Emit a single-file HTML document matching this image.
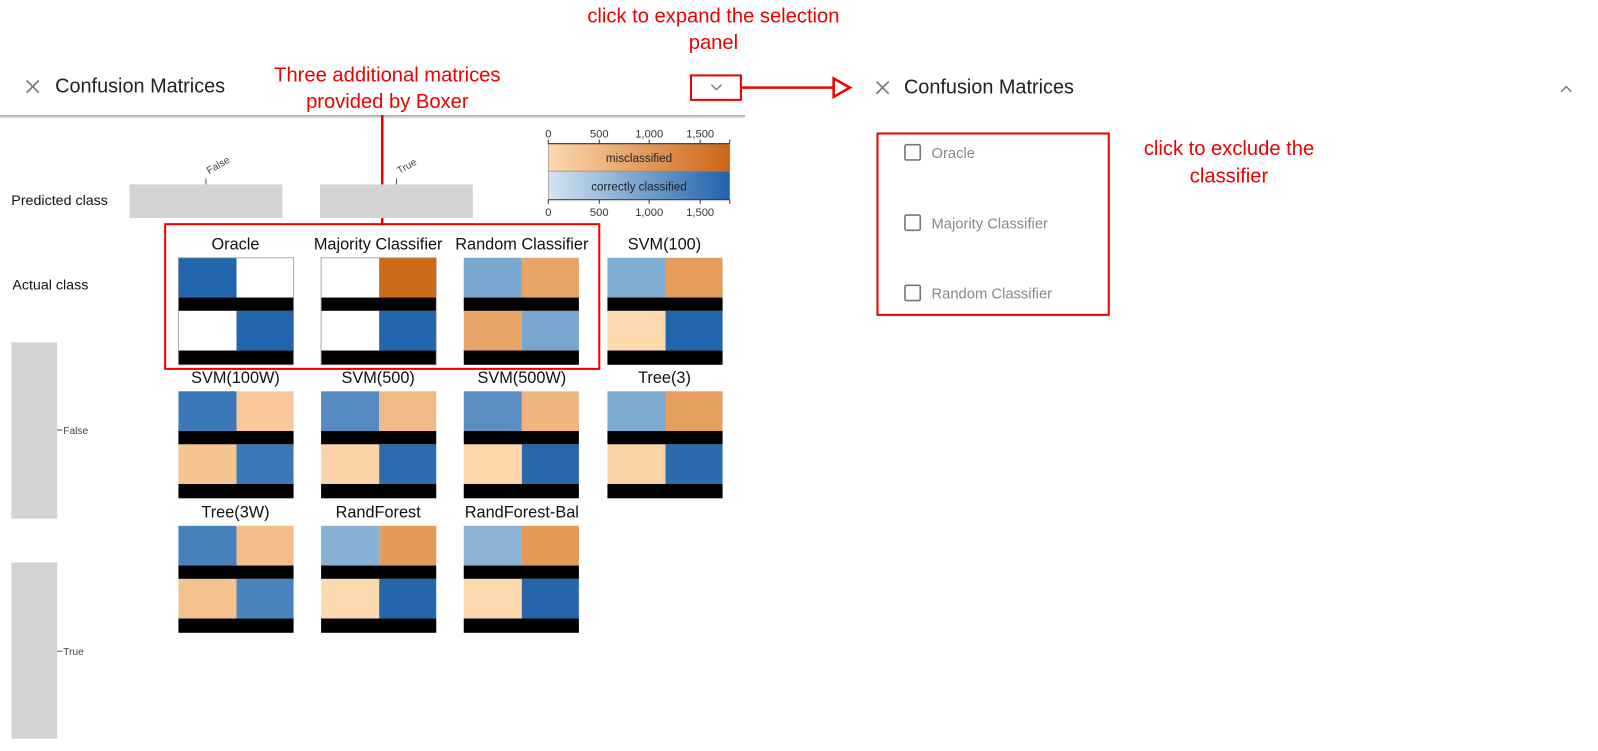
<!DOCTYPE html>
<html><head><meta charset="utf-8"><style>
html,body{margin:0;padding:0;background:#fff;width:1598px;height:751px;overflow:hidden}
svg{display:block}
text{font-family:"Liberation Sans",sans-serif}
</style></head><body>
<svg width="1598" height="751" viewBox="0 0 1568 737" xmlns="http://www.w3.org/2000/svg">
<defs>
<linearGradient id="go" x1="0" x2="1"><stop offset="0" stop-color="#fdd8b0"/><stop offset="1" stop-color="#cc6516"/></linearGradient>
<linearGradient id="gb" x1="0" x2="1"><stop offset="0" stop-color="#d3e5f1"/><stop offset="1" stop-color="#2162ab"/></linearGradient>
<linearGradient id="sh" x1="0" y1="0" x2="0" y2="1"><stop offset="0" stop-color="#bbb"/><stop offset="1" stop-color="#fff"/></linearGradient>
</defs>
<g stroke="#777" stroke-width="1.6"><line x1="26" y1="79" x2="38" y2="91"/><line x1="38" y1="79" x2="26" y2="91"/></g>
<text x="54" y="91" font-size="19.5" fill="#222">Confusion Matrices</text>
<rect x="0" y="113" width="731" height="4" fill="url(#sh)"/>
<rect x="0" y="113" width="731" height="1.2" fill="#aaa"/>
<polyline points="698,83 703,88 708,83" fill="none" stroke="#777" stroke-width="1.4"/>
<rect x="678" y="74" width="49" height="24" fill="none" stroke="#e00" stroke-width="2"/>
<line x1="727" y1="86" x2="818" y2="86" stroke="#e00" stroke-width="2.5"/>
<polygon points="818,77 834,86 818,95" fill="#fff" stroke="#e00" stroke-width="2.5"/>
<text x="700" y="22" font-size="19.8" fill="#e00" text-anchor="middle">click to expand the selection</text>
<text x="700" y="48" font-size="19.8" fill="#e00" text-anchor="middle">panel</text>
<text x="380" y="80" font-size="19.8" fill="#e00" text-anchor="middle">Three additional matrices</text>
<text x="380" y="106" font-size="19.8" fill="#e00" text-anchor="middle">provided by Boxer</text>
<line x1="375" y1="113" x2="375" y2="221" stroke="#e00" stroke-width="2.5"/>
<text x="11" y="201" font-size="14" fill="#111">Predicted class</text>
<rect x="127" y="181" width="150" height="33" fill="#d3d3d3"/>
<rect x="314" y="181" width="150" height="33" fill="#d3d3d3"/>
<line x1="202" y1="175" x2="202" y2="181" stroke="#555"/>
<line x1="389" y1="175" x2="389" y2="181" stroke="#555"/>
<text x="0" y="0" font-size="10" fill="#444" transform="translate(205,171) rotate(-30)">False</text>
<text x="0" y="0" font-size="10" fill="#444" transform="translate(392,171) rotate(-30)">True</text>
<text x="12" y="284" font-size="14" fill="#111">Actual class</text>
<rect x="11" y="336" width="45" height="173" fill="#d3d3d3"/>
<rect x="11" y="552" width="45" height="173" fill="#d3d3d3"/>
<line x1="56" y1="422" x2="61" y2="422" stroke="#555"/>
<line x1="56" y1="639" x2="61" y2="639" stroke="#555"/>
<text x="62" y="426" font-size="10" fill="#444">False</text>
<text x="62" y="643" font-size="10" fill="#444">True</text>
<rect x="538" y="141" width="178" height="27" fill="url(#go)" stroke="#888" stroke-width="0.6"/>
<rect x="538" y="168" width="178" height="28" fill="url(#gb)" stroke="#888" stroke-width="0.6"/>
<g stroke="#333" stroke-width="1">
<line x1="538" y1="141" x2="716" y2="141"/><line x1="538" y1="196" x2="716" y2="196"/>
<line x1="538" y1="137" x2="538" y2="141"/><line x1="588" y1="137" x2="588" y2="141"/><line x1="637" y1="137" x2="637" y2="141"/><line x1="687" y1="137" x2="687" y2="141"/><line x1="716" y1="137" x2="716" y2="141"/>
<line x1="538" y1="196" x2="538" y2="200"/><line x1="588" y1="196" x2="588" y2="200"/><line x1="637" y1="196" x2="637" y2="200"/><line x1="687" y1="196" x2="687" y2="200"/><line x1="716" y1="196" x2="716" y2="200"/>
</g>
<g font-size="11" fill="#333" text-anchor="middle">
<text x="538" y="135">0</text><text x="588" y="135">500</text><text x="637" y="135">1,000</text><text x="687" y="135">1,500</text>
<text x="538" y="212">0</text><text x="588" y="212">500</text><text x="637" y="212">1,000</text><text x="687" y="212">1,500</text>
</g>
<text x="627" y="159" font-size="11.5" fill="#222" text-anchor="middle">misclassified</text>
<text x="627" y="187" font-size="11.5" fill="#222" text-anchor="middle">correctly classified</text>
<g>
<g transform="translate(175,253)"><rect width="57" height="39" fill="#2166ac"/><rect x="57" width="56" height="39" fill="#fff"/><rect x="0" y="52" width="57" height="39" fill="#fff"/><rect x="57" y="52" width="56" height="39" fill="#2166ac"/><rect y="39" width="113" height="13" fill="#000"/><rect y="91" width="113" height="14" fill="#000"/><rect width="113" height="105" fill="none" stroke="#999" stroke-width="0.8"/></g>
<g transform="translate(315,253)"><rect width="57" height="39" fill="#fff"/><rect x="57" width="56" height="39" fill="#cc6a17"/><rect x="0" y="52" width="57" height="39" fill="#fff"/><rect x="57" y="52" width="56" height="39" fill="#2166ac"/><rect y="39" width="113" height="13" fill="#000"/><rect y="91" width="113" height="14" fill="#000"/><rect width="113" height="105" fill="none" stroke="#999" stroke-width="0.8"/></g>
<g transform="translate(455,253)"><rect width="57" height="39" fill="#79a6cf"/><rect x="57" width="56" height="39" fill="#e8a466"/><rect x="0" y="52" width="57" height="39" fill="#e8a466"/><rect x="57" y="52" width="56" height="39" fill="#79a6cf"/><rect y="39" width="113" height="13" fill="#000"/><rect y="91" width="113" height="14" fill="#000"/></g>
<g transform="translate(596,253)"><rect width="57" height="39" fill="#7facd1"/><rect x="57" width="56" height="39" fill="#e59c5c"/><rect x="0" y="52" width="57" height="39" fill="#fdd9b0"/><rect x="57" y="52" width="56" height="39" fill="#2166ac"/><rect y="39" width="113" height="13" fill="#000"/><rect y="91" width="113" height="14" fill="#000"/></g>
<g transform="translate(175,384)"><rect width="57" height="39" fill="#3b78b7"/><rect x="57" width="56" height="39" fill="#f8c89a"/><rect x="0" y="52" width="57" height="39" fill="#f6c490"/><rect x="57" y="52" width="56" height="39" fill="#3b78b7"/><rect y="39" width="113" height="13" fill="#000"/><rect y="91" width="113" height="14" fill="#000"/></g>
<g transform="translate(315,384)"><rect width="57" height="39" fill="#578cc2"/><rect x="57" width="56" height="39" fill="#f1b985"/><rect x="0" y="52" width="57" height="39" fill="#fcd3a8"/><rect x="57" y="52" width="56" height="39" fill="#2c6daf"/><rect y="39" width="113" height="13" fill="#000"/><rect y="91" width="113" height="14" fill="#000"/></g>
<g transform="translate(455,384)"><rect width="57" height="39" fill="#5a8ec3"/><rect x="57" width="56" height="39" fill="#efb680"/><rect x="0" y="52" width="57" height="39" fill="#fdd6ab"/><rect x="57" y="52" width="56" height="39" fill="#2968ad"/><rect y="39" width="113" height="13" fill="#000"/><rect y="91" width="113" height="14" fill="#000"/></g>
<g transform="translate(596,384)"><rect width="57" height="39" fill="#7ea9d0"/><rect x="57" width="56" height="39" fill="#e59f5f"/><rect x="0" y="52" width="57" height="39" fill="#fbd2a5"/><rect x="57" y="52" width="56" height="39" fill="#2b6bae"/><rect y="39" width="113" height="13" fill="#000"/><rect y="91" width="113" height="14" fill="#000"/></g>
<g transform="translate(175,516)"><rect width="57" height="39" fill="#4681bc"/><rect x="57" width="56" height="39" fill="#f3bd8c"/><rect x="0" y="52" width="57" height="39" fill="#f4c28f"/><rect x="57" y="52" width="56" height="39" fill="#4b84be"/><rect y="39" width="113" height="13" fill="#000"/><rect y="91" width="113" height="14" fill="#000"/></g>
<g transform="translate(315,516)"><rect width="57" height="39" fill="#87b0d4"/><rect x="57" width="56" height="39" fill="#e39b5a"/><rect x="0" y="52" width="57" height="39" fill="#fdd9b0"/><rect x="57" y="52" width="56" height="39" fill="#2666ac"/><rect y="39" width="113" height="13" fill="#000"/><rect y="91" width="113" height="14" fill="#000"/></g>
<g transform="translate(455,516)"><rect width="57" height="39" fill="#8cb2d5"/><rect x="57" width="56" height="39" fill="#e39b58"/><rect x="0" y="52" width="57" height="39" fill="#fdd9b0"/><rect x="57" y="52" width="56" height="39" fill="#2666ac"/><rect y="39" width="113" height="13" fill="#000"/><rect y="91" width="113" height="14" fill="#000"/></g>
</g>
<g font-size="16" fill="#111" text-anchor="middle">
<text x="231" y="245">Oracle</text><text x="371" y="245">Majority Classifier</text><text x="512" y="245">Random Classifier</text><text x="652" y="245">SVM(100)</text>
<text x="231" y="376">SVM(100W)</text><text x="371" y="376">SVM(500)</text><text x="512" y="376">SVM(500W)</text><text x="652" y="376">Tree(3)</text>
<text x="231" y="508">Tree(3W)</text><text x="371" y="508">RandForest</text><text x="512" y="508">RandForest-Bal</text>
</g>
<rect x="162" y="220" width="426" height="142" fill="none" stroke="#e00" stroke-width="2"/>
<g stroke="#777" stroke-width="1.6"><line x1="860" y1="80" x2="872" y2="92"/><line x1="872" y1="80" x2="860" y2="92"/></g>
<text x="887" y="92" font-size="19.5" fill="#222">Confusion Matrices</text>
<polyline points="1532,90 1537,85 1542,90" fill="none" stroke="#777" stroke-width="1.4"/>
<rect x="861" y="131" width="227" height="178" fill="none" stroke="#e00" stroke-width="2"/>
<g fill="none" stroke="#777" stroke-width="1.6">
<rect x="888" y="142" width="15" height="15" rx="1.5"/><rect x="888" y="211" width="15" height="15" rx="1.5"/><rect x="888" y="280" width="15" height="15" rx="1.5"/>
</g>
<g font-size="14.5" fill="#888">
<text x="914" y="155">Oracle</text><text x="914" y="224">Majority Classifier</text><text x="914" y="293">Random Classifier</text>
</g>
<text x="1206" y="152" font-size="19.8" fill="#e00" text-anchor="middle">click to exclude the</text>
<text x="1206" y="179" font-size="19.8" fill="#e00" text-anchor="middle">classifier</text>
</svg>
</body></html>
